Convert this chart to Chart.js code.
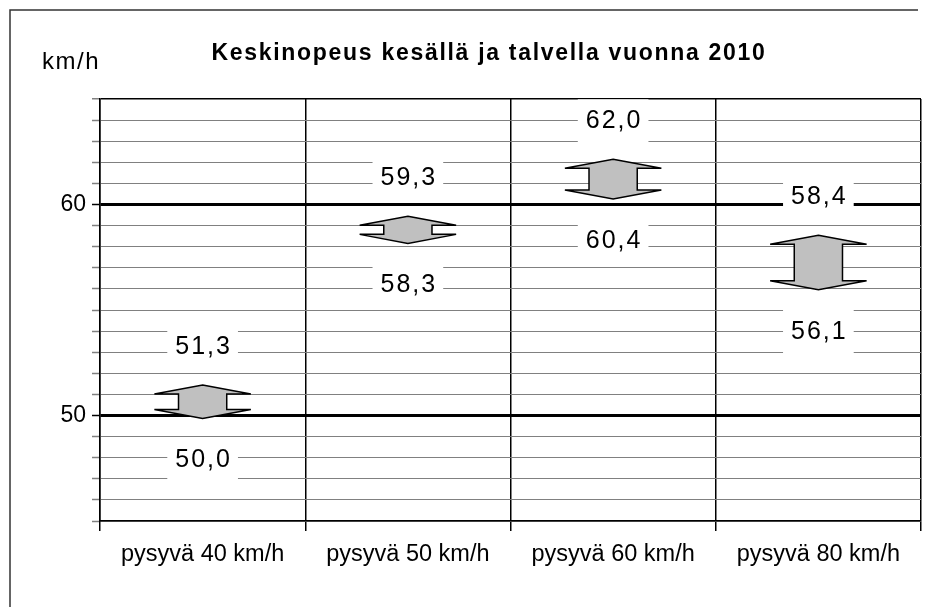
<!DOCTYPE html>
<html lang="fi">
<head>
<meta charset="UTF-8" />
<title>Keskinopeus kesällä ja talvella vuonna 2010</title>
<script src="https://cdn.jsdelivr.net/npm/chart.js"></script>
<style>
  html, body { margin: 0; padding: 0; background: #fff; }
  #wrap { width: 928px; height: 607px; }
</style>
</head>
<body>
<div id="wrap"><canvas id="speedChart" width="928" height="607"></canvas></div>
<script>
  // Tiedot
  const categories = ['pysyvä 40 km/h', 'pysyvä 50 km/h', 'pysyvä 60 km/h', 'pysyvä 80 km/h'];
  const summerSpeed = [51.3, 59.3, 62.0, 58.4];
  const winterSpeed = [50.0, 58.3, 60.4, 56.1];
  const axisLabels = [50, 60];
  const chartTitle = 'Keskinopeus kesällä ja talvella vuonna 2010';
  const unitLabel = 'km/h';

  const FONT = "'Liberation Sans', Arial, sans-serif";
  const fmt = v => v.toFixed(1).replace('.', ',');

  // Kehys, yksikkö ja otsikko
  const frame = {
    id: 'frame',
    beforeDraw(chart) {
      const ctx = chart.ctx;
      ctx.save();
      ctx.fillStyle = '#fff';
      ctx.fillRect(0, 0, chart.width, chart.height);
      ctx.strokeStyle = '#333';
      ctx.lineWidth = 1.5;
      ctx.beginPath();
      ctx.moveTo(10, chart.height);
      ctx.lineTo(10, 10);
      ctx.lineTo(918, 10);
      ctx.stroke();

      ctx.fillStyle = '#000';
      ctx.textBaseline = 'alphabetic';
      ctx.textAlign = 'left';
      ctx.font = '24px ' + FONT;
      ctx.letterSpacing = '1.5px';
      ctx.fillText(unitLabel, 42, 69);

      ctx.font = 'bold 23px ' + FONT;
      ctx.letterSpacing = '1.7px';
      ctx.textAlign = 'center';
      ctx.fillText(chartTitle, 489, 60);
      ctx.restore();
    }
  };

  function valueBox(ctx, text, x, y) {
    ctx.font = '25px ' + FONT;
    ctx.letterSpacing = '2px';
    const w = ctx.measureText(text).width + 14;
    ctx.fillStyle = '#fff';
    ctx.fillRect(x - w / 2, y - 22, w, 44);
    ctx.fillStyle = '#000';
    ctx.textAlign = 'center';
    ctx.textBaseline = 'middle';
    ctx.fillText(text, x + 1, y);
  }

  // Nuolet kesä/talvi välille + arvolaatikot
  const arrows = {
    id: 'arrows',
    afterDatasetsDraw(chart) {
      const ctx = chart.ctx;
      const meta = chart.getDatasetMeta(0);
      ctx.save();
      meta.data.forEach((bar, i) => {
        const p = bar.getProps(['x', 'y', 'base', 'width'], true);
        const top = Math.min(p.y, p.base) - 3;
        const bot = Math.max(p.y, p.base) + 3;
        const hw = p.width / 2, sw = p.width / 4, h = 9;
        const x = p.x;
        ctx.beginPath();
        ctx.moveTo(x, top);
        ctx.lineTo(x + hw, top + h);
        ctx.lineTo(x + sw, top + h);
        ctx.lineTo(x + sw, bot - h);
        ctx.lineTo(x + hw, bot - h);
        ctx.lineTo(x, bot);
        ctx.lineTo(x - hw, bot - h);
        ctx.lineTo(x - sw, bot - h);
        ctx.lineTo(x - sw, top + h);
        ctx.lineTo(x - hw, top + h);
        ctx.closePath();
        ctx.fillStyle = '#c0c0c0';
        ctx.fill();
        ctx.lineWidth = 1.5;
        ctx.strokeStyle = '#000';
        ctx.stroke();

        valueBox(ctx, fmt(summerSpeed[i]), x, top - 38);
        valueBox(ctx, fmt(winterSpeed[i]), x, bot + 42);
      });
      ctx.restore();
    }
  };

  const isMajor = v => axisLabels.includes(v);

  new Chart(document.getElementById('speedChart'), {
    type: 'bar',
    data: {
      labels: categories,
      datasets: [{
        label: 'kesä / talvi',
        data: winterSpeed.map((w, i) => [w, summerSpeed[i]]),
        backgroundColor: 'rgba(0,0,0,0)',
        borderWidth: 0,
        categoryPercentage: 1,
        barPercentage: 0.47
      }]
    },
    options: {
      responsive: false,
      animation: false,
      layout: { padding: { top: 99, right: 7, left: 0, bottom: 0 } },
      plugins: {
        legend: { display: false },
        tooltip: { enabled: false }
      },
      scales: {
        x: {
          offset: true,
          grid: { offset: true, color: '#000', lineWidth: 1.5, tickLength: 10, tickColor: '#000', tickWidth: 1.5 },
          border: { color: '#000', width: 1.5 },
          ticks: { color: '#000', font: { family: FONT, size: 23.5 }, padding: 9, maxRotation: 0 },
          afterFit: s => { s.height = 86; }
        },
        y: {
          min: 45,
          max: 65,
          ticks: {
            stepSize: 1,
            autoSkip: false,
            padding: 6,
            color: '#000',
            font: { family: FONT, size: 23 },
            callback: v => isMajor(v) ? String(v) : ''
          },
          grid: {
            color: c => (c.tick && (isMajor(c.tick.value) || c.tick.value === 65)) ? '#000' : '#808080',
            lineWidth: c => (c.tick && isMajor(c.tick.value)) ? 3 : (c.tick && c.tick.value === 65 ? 1.5 : 1),
            tickLength: 8,
            tickColor: c => (c.tick && isMajor(c.tick.value)) ? '#000' : '#808080',
            tickWidth: 1.5
          },
          border: { color: '#000', width: 1.5 },
          afterFit: s => { s.width = 100; }
        }
      }
    },
    plugins: [frame, arrows]
  });
</script>
</body>
</html>
